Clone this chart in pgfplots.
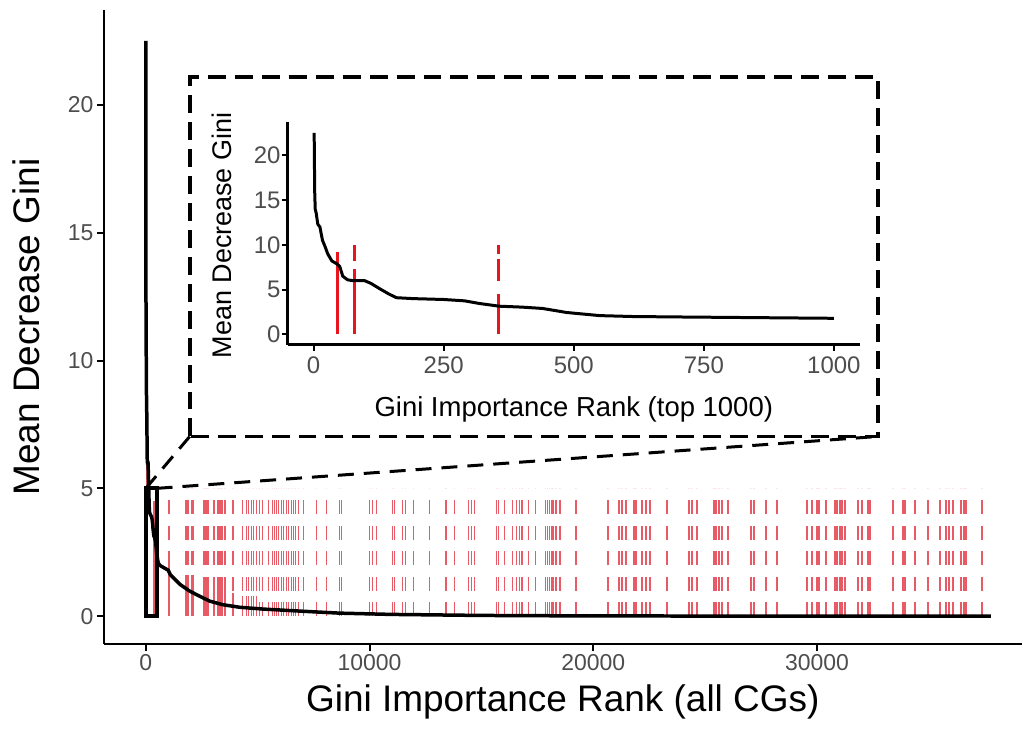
\documentclass[border=0pt]{standalone}
\usepackage{fontspec}
\setmainfont{Liberation Sans}
\usepackage{pgfplots}
\pgfplotsset{compat=1.18}
\usepackage{pgfplotstable}
\definecolor{g30}{RGB}{77,77,77}
\definecolor{redline}{RGB}{232,90,102}
\definecolor{redin}{RGB}{232,20,30}

% Mean Decrease Gini by Gini importance rank
\pgfplotstableread{
rank mdg
1 22.5
2 16
3 14
5 13.5
8 12.3
12 12
17 10.5
22 9.8
27 9
35 8.2
44 7.9
50 7.6
56 6.5
65 6.1
75 6.0
98 6.0
110 5.7
127 5.1
145 4.5
159 4.1
190 4.0
250 3.9
290 3.75
319 3.45
357 3.15
400 3.05
440 2.9
486 2.45
550 2.1
613 2.0
700 1.95
800 1.9
1000 1.8
1100 1.62
1518 1.25
1964 0.98
2411 0.78
2857 0.59
3437 0.45
4196 0.35
5223 0.28
6875 0.2
8660 0.12
11000 0.07
15000 0.03
20000 0.01
37770 0.0
}\curve

% ranks of highlighted CGs (dashed marks, height 5)
\pgfplotstableread{
rank h
1027 5
1786 5
1875 5
2054 5
2098 5
2589 5
2679 5
2768 5
3036 5
3214 5
3304 5
3393 5
3527 5
3884 5
4330 5
4509 5
4598 5
4732 5
4821 5
4955 5
5089 5
5223 5
5491 5
5670 5
5759 5
5848 5
5938 5
6071 5
6161 5
6295 5
6384 5
6518 5
6607 5
6696 5
6830 5
7054 5
7634 5
8080 5
8661 5
8750 5
10000 5
10134 5
10313 5
11027 5
11116 5
11473 5
11607 5
11964 5
12679 5
13393 5
13438 5
13795 5
14420 5
14554 5
14688 5
15670 5
15759 5
16027 5
16384 5
16563 5
16696 5
16786 5
16830 5
17098 5
17411 5
17857 5
17946 5
18036 5
18125 5
18214 5
18348 5
18527 5
19241 5
20670 5
21161 5
21295 5
21473 5
21830 5
21920 5
22188 5
22366 5
22545 5
23304 5
24286 5
24420 5
24643 5
25402 5
25491 5
25625 5
25759 5
26027 5
27054 5
27188 5
27723 5
28214 5
29554 5
29777 5
30000 5
30089 5
30402 5
30804 5
30893 5
31027 5
31116 5
31250 5
31830 5
32009 5
32277 5
32366 5
33393 5
33839 5
33929 5
34375 5
34955 5
35491 5
35759 5
35893 5
36071 5
36429 5
36563 5
36652 5
37366 5
}\marks

% solid lower parts of the marks
\pgfplotstableread{
rank h
46 8.1
79 7.3
356 4.5
1027 2.2
1786 1.6
1875 1.6
2054 1.6
2098 1.6
2589 1.2
2679 1.2
2768 1.2
3036 1.0
3214 1.0
3304 1.0
3393 1.0
3527 1.0
3884 0.9
4330 0.8
4509 0.8
4598 0.8
4732 0.8
4821 0.8
4955 0.8
}\solidmarks

\begin{document}
\begin{tikzpicture}[x=1pt,y=1pt]
\path (0,0) rectangle (1023,730);
\begin{axis}[
  at={(104pt,85pt)}, anchor=south west,
  scale only axis, width=919pt, height=635pt,
  xmin=-1875, xmax=39152, ymin=-1.094, ymax=23.71,
  axis x line*=bottom, axis y line*=left,
  axis line style={line width=2.6pt, black},
  xtick={0,10000,20000,30000}, ytick={0,5,10,15,20},
  scaled x ticks=false,
  /pgf/number format/set thousands separator={},
  /pgf/number format/assume math mode=true,
  tick align=outside, major tick length=7pt,
  tick style={line width=2pt, black},
  tick label style={font=\fontsize{23}{23}\selectfont, text=g30},
  xlabel={Gini Importance Rank (all CGs)},
  ylabel={Mean Decrease Gini},
  xlabel style={font=\fontsize{37}{37}\selectfont, at={(axis description cs:0.5,-0.1055)}, anchor=base},
  ylabel style={font=\fontsize{37}{37}\selectfont, at={(axis description cs:-0.0696,0.5)}, anchor=base},
  clip=false,
]
\addplot[redline, line width=1.6pt, ycomb, dash pattern=on 14pt off 11.6pt, mark=none] table[x=rank, y=h] {\marks};
\addplot[redline, line width=1.6pt, ycomb, mark=none] table[x=rank, y=h] {\solidmarks};
\addplot[black, line width=3.5pt, mark=none] table[x=rank, y=mdg] {\curve};
\draw[black, line width=4pt] (axis cs:0,0) rectangle (axis cs:480,5);
\draw[black, line width=3pt, dash pattern=on 16pt off 10pt] (axis cs:0,5) -- (axis cs:1964,7.03);
\draw[black, line width=3pt, dash pattern=on 16pt off 10pt] (axis cs:480,5) -- (axis cs:32723,7.03);
\filldraw[fill=white, draw=black, line width=3.5pt, dash pattern=on 18pt off 9pt] (axis cs:1964,7.03) rectangle (axis cs:32723,21.09);
\end{axis}

\begin{axis}[
  at={(288pt,385pt)}, anchor=south west,
  scale only axis, width=573pt, height=223pt,
  xmin=-50, xmax=1050, ymin=-1.13, ymax=23.73,
  axis x line*=bottom, axis y line*=left,
  axis line style={line width=2.6pt, black},
  xtick={0,250,500,750,1000}, ytick={0,5,10,15,20},
  scaled x ticks=false,
  /pgf/number format/set thousands separator={},
  /pgf/number format/assume math mode=true,
  tick align=outside, major tick length=6pt,
  tick style={line width=2pt, black},
  tick label style={font=\fontsize{24}{24}\selectfont, text=g30},
  yticklabel style={inner xsep=1pt},
  xticklabel style={yshift=-3pt},
  xlabel={Gini Importance Rank (top 1000)},
  ylabel={Mean Decrease Gini},
  xlabel style={font=\fontsize{27.5}{27.5}\selectfont, at={(axis description cs:0.5,-0.323)}, anchor=base},
  ylabel style={font=\fontsize{27}{27}\selectfont, at={(axis description cs:-0.0977,0.49)}, anchor=base},
  clip=false,
]
\addplot[redin, line width=3pt, unbounded coords=jump, mark=none] coordinates {
  (46,0) (46,9.2) (46,nan)
  (79,0) (79,7.3) (79,nan) (79,8.2) (79,10) (79,nan)
  (356,0) (356,4.5) (356,nan) (356,6) (356,8.4) (356,nan) (356,9) (356,10)
};
\addplot[black, line width=3pt, mark=none, restrict x to domain=0:1000] table[x=rank, y=mdg] {\curve};
\end{axis}
\end{tikzpicture}
\end{document}
